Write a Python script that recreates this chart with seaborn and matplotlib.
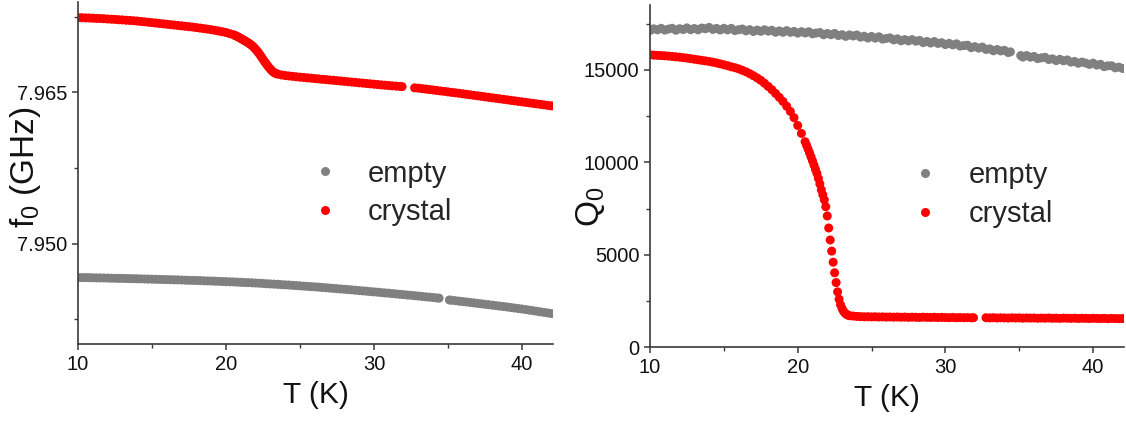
import matplotlib
matplotlib.use("Agg")
import matplotlib.pyplot as plt
import numpy as np
import pandas as pd
import seaborn as sns
from matplotlib.ticker import MultipleLocator, FormatStrFormatter

# ---------------------------------------------------------------------------
# Measured resonator data: resonance frequency f0 (GHz) and loaded Q0
# versus temperature for the empty cavity and the cavity with the crystal.
# ---------------------------------------------------------------------------
T_crystal = [
    10.0, 10.25, 10.5, 10.75, 11.0, 11.25, 11.5, 11.75, 12.0, 12.25,
    12.5, 12.75, 13.0, 13.25, 13.5, 13.75, 14.0, 14.25, 14.5, 14.75,
    15.0, 15.25, 15.5, 15.75, 16.0, 16.25, 16.5, 16.75, 17.0, 17.25,
    17.5, 17.75, 18.0, 18.25, 18.5, 18.75, 19.0, 19.25, 19.5, 19.75,
    20.0, 20.25, 20.5,
    20.6, 20.7, 20.8, 20.9, 21.0, 21.1, 21.2, 21.3, 21.4, 21.5,
    21.6, 21.7, 21.8, 21.9, 22.0, 22.1, 22.2, 22.3, 22.4, 22.5,
    22.6, 22.7, 22.8, 22.9, 23.0, 23.1, 23.2, 23.3, 23.4, 23.5,
    23.75, 24.0, 24.25, 24.5, 24.75, 25.0, 25.25, 25.5, 25.75, 26.0,
    26.25, 26.5, 26.75, 27.0, 27.25, 27.5, 27.75, 28.0, 28.25, 28.5,
    28.75, 29.0, 29.25, 29.5, 29.75, 30.0, 30.25, 30.5, 30.75, 31.0,
    31.25, 31.5, 31.75, 31.9,
    32.75, 33.0, 33.25, 33.5, 33.75, 34.0, 34.25, 34.5, 34.75, 35.0,
    35.25, 35.5, 35.75, 36.0, 36.25, 36.5, 36.75, 37.0, 37.25, 37.5,
    37.75, 38.0, 38.25, 38.5, 38.75, 39.0, 39.25, 39.5, 39.75, 40.0,
    40.25, 40.5, 40.75, 41.0, 41.25, 41.5, 41.75, 42.0,
]

f0_crystal = [
    7.97242, 7.97241, 7.97239, 7.97238, 7.97236, 7.97234, 7.97233, 7.97231, 7.97228, 7.97226,
    7.97224, 7.97221, 7.97219, 7.97216, 7.97214, 7.97211, 7.97208, 7.97204, 7.97200, 7.97196,
    7.97192, 7.97188, 7.97184, 7.97180, 7.97176, 7.97172, 7.97168, 7.97164, 7.97160, 7.97156,
    7.97152, 7.97148, 7.97143, 7.97138, 7.97133, 7.97128, 7.97122, 7.97116, 7.97109, 7.97102,
    7.97094, 7.97083, 7.97072,
    7.97066, 7.97059, 7.97052, 7.97044, 7.97035, 7.97027, 7.97018, 7.97010, 7.97001, 7.96992,
    7.96982, 7.96971, 7.96959, 7.96944, 7.96928, 7.96911, 7.96892, 7.96872, 7.96850, 7.96828,
    7.96807, 7.96787, 7.96767, 7.96748, 7.96731, 7.96715, 7.96702, 7.96693, 7.96686, 7.96681,
    7.96673, 7.96667, 7.96663, 7.96659, 7.96655, 7.96651, 7.96648, 7.96644, 7.96641, 7.96637,
    7.96634, 7.96630, 7.96627, 7.96623, 7.96620, 7.96616, 7.96613, 7.96609, 7.96606, 7.96602,
    7.96599, 7.96595, 7.96592, 7.96588, 7.96585, 7.96581, 7.96578, 7.96574, 7.96571, 7.96568,
    7.96565, 7.96562, 7.96559, 7.96557,
    7.96545, 7.96542, 7.96537, 7.96533, 7.96528, 7.96524, 7.96519, 7.96514, 7.96510, 7.96505,
    7.96500, 7.96496, 7.96491, 7.96486, 7.96481, 7.96476, 7.96471, 7.96466, 7.96461, 7.96456,
    7.96451, 7.96446, 7.96441, 7.96436, 7.96431, 7.96426, 7.96421, 7.96416, 7.96411, 7.96406,
    7.96401, 7.96396, 7.96391, 7.96386, 7.96381, 7.96376, 7.96371, 7.96366,
]

Q0_crystal = [
    15810, 15790, 15780, 15770, 15755, 15740, 15720, 15700, 15680, 15655,
    15630, 15600, 15570, 15540, 15510, 15480, 15450, 15410, 15370, 15320,
    15270, 15220, 15160, 15110, 15050, 14970, 14890, 14790, 14680, 14560,
    14430, 14270, 14100, 13920, 13720, 13510, 13290, 13030, 12750, 12410,
    11990, 11560, 11110,
    10920, 10720, 10510, 10300, 10080, 9850, 9620, 9400, 9130, 8830,
    8510, 8240, 7970, 7600, 7100, 6450, 5800, 5200, 4600, 4030,
    3500, 3000, 2600, 2300, 2100, 1950, 1850, 1780, 1740, 1710,
    1690, 1670, 1660, 1650, 1655, 1645, 1650, 1640, 1645, 1635,
    1640, 1630, 1640, 1625, 1635, 1620, 1630, 1625, 1615, 1630,
    1620, 1615, 1625, 1610, 1620, 1610, 1605, 1615, 1600, 1610,
    1600, 1605, 1595, 1600,
    1600, 1590, 1600, 1585, 1595, 1590, 1580, 1595, 1585, 1590,
    1575, 1590, 1580, 1585, 1570, 1580, 1575, 1585, 1570, 1575,
    1565, 1580, 1570, 1565, 1575, 1560, 1570, 1565, 1555, 1570,
    1560, 1555, 1565, 1550, 1560, 1555, 1550, 1555,
]

T_empty = [
    10.0, 10.25, 10.5, 10.75, 11.0, 11.25, 11.5, 11.75, 12.0, 12.25,
    12.5, 12.75, 13.0, 13.25, 13.5, 13.75, 14.0, 14.25, 14.5, 14.75,
    15.0, 15.25, 15.5, 15.75, 16.0, 16.25, 16.5, 16.75, 17.0, 17.25,
    17.5, 17.75, 18.0, 18.25, 18.5, 18.75, 19.0, 19.25, 19.5, 19.75,
    20.0, 20.25, 20.5, 20.75, 21.0, 21.25, 21.5, 21.75, 22.0, 22.25,
    22.5, 22.75, 23.0, 23.25, 23.5, 23.75, 24.0, 24.25, 24.5, 24.75,
    25.0, 25.25, 25.5, 25.75, 26.0, 26.25, 26.5, 26.75, 27.0, 27.25,
    27.5, 27.75, 28.0, 28.25, 28.5, 28.75, 29.0, 29.25, 29.5, 29.75,
    30.0, 30.25, 30.5, 30.75, 31.0, 31.25, 31.5, 31.75, 32.0, 32.25,
    32.5, 32.75, 33.0, 33.25, 33.5, 33.75, 34.0, 34.25, 34.4,
    35.1, 35.25, 35.5, 35.75, 36.0, 36.25, 36.5, 36.75, 37.0, 37.25,
    37.5, 37.75, 38.0, 38.25, 38.5, 38.75, 39.0, 39.25, 39.5, 39.75,
    40.0, 40.25, 40.5, 40.75, 41.0, 41.25, 41.5, 41.75, 42.0,
]

f0_empty = [
    7.94663, 7.94662, 7.94662, 7.94661, 7.94660, 7.94659, 7.94659, 7.94658, 7.94657, 7.94656,
    7.94655, 7.94654, 7.94654, 7.94653, 7.94652, 7.94651, 7.94650, 7.94649, 7.94648, 7.94647,
    7.94646, 7.94645, 7.94644, 7.94643, 7.94642, 7.94641, 7.94640, 7.94639, 7.94638, 7.94636,
    7.94635, 7.94634, 7.94633, 7.94632, 7.94630, 7.94629, 7.94628, 7.94626, 7.94625, 7.94623,
    7.94622, 7.94620, 7.94619, 7.94617, 7.94615, 7.94613, 7.94612, 7.94610, 7.94608, 7.94606,
    7.94604, 7.94601, 7.94599, 7.94597, 7.94595, 7.94592, 7.94590, 7.94588, 7.94585, 7.94583,
    7.94580, 7.94577, 7.94575, 7.94572, 7.94570, 7.94567, 7.94564, 7.94561, 7.94558, 7.94555,
    7.94552, 7.94549, 7.94546, 7.94543, 7.94540, 7.94536, 7.94533, 7.94530, 7.94527, 7.94523,
    7.94520, 7.94517, 7.94513, 7.94510, 7.94507, 7.94503, 7.94500, 7.94496, 7.94493, 7.94489,
    7.94486, 7.94482, 7.94479, 7.94475, 7.94471, 7.94468, 7.94464, 7.94460, 7.94458,
    7.94440, 7.94437, 7.94433, 7.94428, 7.94424, 7.94420, 7.94415, 7.94411, 7.94406, 7.94402,
    7.94397, 7.94393, 7.94388, 7.94384, 7.94379, 7.94375, 7.94370, 7.94365, 7.94360, 7.94355,
    7.94350, 7.94345, 7.94339, 7.94334, 7.94328, 7.94322, 7.94317, 7.94311, 7.94305,
]

Q0_empty = [
    17120, 17214, 17158, 17241, 17145, 17199, 17243, 17136, 17220, 17174,
    17263, 17166, 17230, 17159, 17258, 17216, 17290, 17181, 17238, 17149,
    17240, 17156, 17238, 17119, 17165, 17203, 17100, 17168, 17070, 17143,
    17080, 17163, 17085, 17136, 17028, 17099, 17025, 17116, 17023, 17074,
    16980, 17059, 16988, 17056, 16945, 16984, 17013, 16891, 16960, 16895,
    16965, 16850, 16895, 16805, 16885, 16825, 16880, 16764, 16813, 16716,
    16800, 16709, 16783, 16656, 16695, 16724, 16613, 16671, 16565, 16629,
    16558, 16631, 16545, 16586, 16468, 16529, 16445, 16526, 16423, 16464,
    16360, 16428, 16345, 16403, 16280, 16308, 16325, 16193, 16250, 16171,
    16228, 16099, 16130, 16026, 16093, 16019, 16050, 15931, 15970,
    15770, 15685, 15770, 15680, 15720, 15603, 15645, 15673, 15555, 15593,
    15495, 15568, 15485, 15531, 15413, 15449, 15350, 15416, 15363, 15289,
    15360, 15253, 15295, 15168, 15215, 15218, 15105, 15143, 15070,
]

samples = ["empty", "crystal"]
colors = {"empty": "#808080", "crystal": "#ff0000"}

# ---------------------------------------------------------------------------
sns.set_theme(style="ticks")
plt.rcParams["font.family"] = ["Liberation Sans", "DejaVu Sans"]
plt.rcParams["mathtext.fontset"] = "custom"
plt.rcParams["mathtext.rm"] = "Liberation Sans"
plt.rcParams["mathtext.it"] = "Liberation Sans:italic"

data = pd.concat([
    pd.DataFrame({"T": T_empty, "f0": f0_empty, "Q0": Q0_empty, "sample": "empty"}),
    pd.DataFrame({"T": T_crystal, "f0": f0_crystal, "Q0": Q0_crystal, "sample": "crystal"}),
], ignore_index=True)

fig = plt.figure(figsize=(11.26, 4.21), dpi=100)
ax_f = fig.add_axes([0.0693, 0.1822, 0.4218, 0.8138])
ax_q = fig.add_axes([0.5773, 0.1750, 0.4210, 0.8131])

AX_COLOR = "#3a3a3a"
MARKER_AREA = 42


def style_axes(ax):
    sns.despine(ax=ax)
    for side in ("left", "bottom"):
        ax.spines[side].set_color(AX_COLOR)
        ax.spines[side].set_linewidth(1.2)
    ax.tick_params(which="major", direction="out", length=4.5, width=1.1,
                   color=AX_COLOR, labelsize=14.5, pad=3, labelcolor="#111111")
    ax.tick_params(which="minor", direction="out", length=2.8, width=1.0,
                   color=AX_COLOR)
    ax.set_xlim(10, 42.1)
    ax.xaxis.set_major_locator(MultipleLocator(10))
    ax.xaxis.set_minor_locator(MultipleLocator(5))
    ax.set_xlabel("T (K)", fontsize=21.5, color="#111111")
    ax.xaxis.set_label_coords(0.5, -0.108)
    ax.grid(False)


legend_style = dict(frameon=False, title=None, fontsize=21, handlelength=1.0,
                    handletextpad=0.98, labelspacing=0.37, borderpad=0,
                    borderaxespad=0)

# Left panel: resonance frequency
sns.scatterplot(data=data, x="T", y="f0", hue="sample", hue_order=samples,
                palette=colors, s=MARKER_AREA, linewidth=0, ax=ax_f)
style_axes(ax_f)
ax_f.set_ylim(7.9400, 7.9740)
ax_f.yaxis.set_major_locator(MultipleLocator(0.015))
ax_f.yaxis.set_minor_locator(MultipleLocator(0.0075))
ax_f.yaxis.set_major_formatter(FormatStrFormatter("%.3f"))
ax_f.set_ylabel(r"f$_\mathregular{0}$ (GHz)", fontsize=24, color="#111111")
ax_f.yaxis.set_label_coords(-0.074, 0.516)
sns.move_legend(ax_f, "center left", bbox_to_anchor=(0.489, 0.4416), **legend_style)

# Right panel: quality factor
sns.scatterplot(data=data, x="T", y="Q0", hue="sample", hue_order=samples,
                palette=colors, s=MARKER_AREA, linewidth=0, ax=ax_q)
style_axes(ax_q)
ax_q.set_ylim(0, 18500)
ax_q.yaxis.set_major_locator(MultipleLocator(5000))
ax_q.yaxis.set_minor_locator(MultipleLocator(2500))
ax_q.set_ylabel(r"Q$_\mathregular{0}$", fontsize=24, color="#111111")
ax_q.yaxis.set_label_coords(-0.091, 0.41)
sns.move_legend(ax_q, "center left", bbox_to_anchor=(0.5496, 0.4464), **legend_style)

fig.savefig("out.png", dpi=100)
